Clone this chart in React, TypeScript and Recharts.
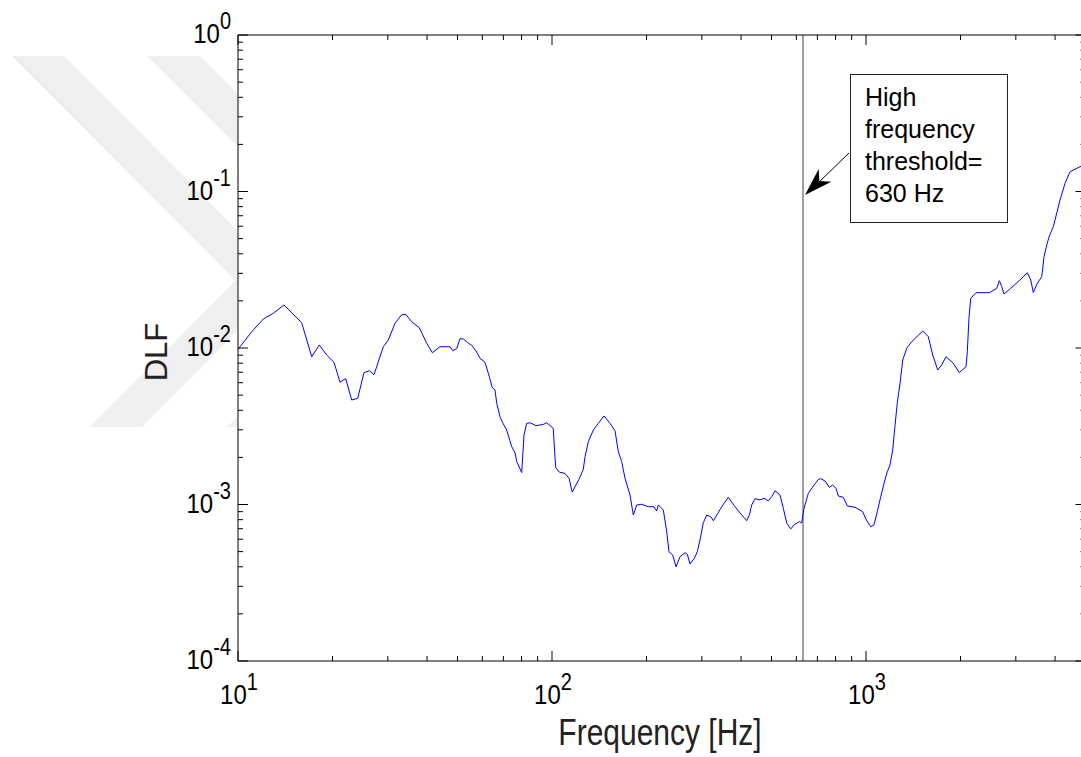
import { LineChart, Line, XAxis, YAxis, ReferenceLine } from "recharts";

// frequency [Hz] and DLF
const FREQ = [
  10, 11.06, 12.04, 12.95, 14.01, 15.95, 17.17, 18.15, 19.16, 20.22,
  21.13, 22.03, 23.02, 24.06, 25.19, 26.19, 27.11, 29.02, 30.1, 31.62,
  33.21, 34.28, 35.74, 37.79, 39.9, 41.57, 43.99, 47.33, 48.28, 49.72,
  50.93, 52.18, 53.74, 55.5, 57.28, 58.99, 61.19, 63.14, 64.55, 65.84,
  66.67, 68.3, 69.66, 71.74, 74.43, 76.25, 77.2, 80.08, 81.44, 83.06,
  85.1, 88.93, 93.82, 96.18, 100.9, 102.7, 105.5, 110.0, 113.3, 116.0,
  118.4, 121.9, 125.8, 127.4, 130.5, 135.4, 140.4, 146.4, 153.0, 158.7,
  162.6, 166.7, 170.8, 177.2, 181.5, 186.1, 193.1, 202.6, 211.3, 215.5,
  218.0, 226.2, 231.9, 235.8, 242.3, 248.3, 255.6, 265.2, 269.7, 275.1,
  283.9, 290.2, 296.0, 303.3, 311.0, 320.2, 326.4, 336.1, 347.1, 364.4,
  382.7, 401.9, 417.0, 425.0, 432.5, 443.1, 459.6, 473.3, 488.5, 500.7,
  513.0, 532.2, 545.3, 559.2, 575.8, 594.2, 613.3, 624.1, 634.7, 655.1,
  679.6, 705.0, 717.4, 740.4, 764.1, 783.4, 802.7, 816.3, 846.8, 872.0,
  922.6, 976.1, 1000, 1035, 1060, 1086, 1114, 1141, 1169, 1192,
  1216, 1237, 1258, 1283, 1309, 1348, 1398, 1516, 1579, 1631,
  1692, 1742, 1798, 1897, 1982, 2082, 2102, 2128, 2155, 2240,
  2470, 2608, 2658, 2705, 2751, 2890, 3133, 3264, 3346, 3410,
  3512, 3628, 3689, 3763, 3835, 3949, 3998, 4148, 4303, 4464,
  4804, 5000,
];

const DLF = [
  0.00981, 0.01271, 0.01532, 0.01666, 0.01883, 0.01451, 0.0088, 0.01045, 0.00902, 0.0081,
  0.00604, 0.00637, 0.00465, 0.00477, 0.00696, 0.00716, 0.00675, 0.01019, 0.01125, 0.01438,
  0.01633, 0.01633, 0.01472, 0.01348, 0.01072, 0.00933, 0.01019, 0.01019, 0.00961, 0.0099,
  0.01147, 0.01142, 0.01087, 0.0104, 0.00957, 0.00859, 0.0081, 0.00656, 0.00558, 0.00539,
  0.00443, 0.00364, 0.00333, 0.00299, 0.00234, 0.00214, 0.00188, 0.0016, 0.00278, 0.0033,
  0.00333, 0.00319, 0.00325, 0.00333, 0.00307, 0.00173, 0.00161, 0.00158, 0.00147, 0.0012,
  0.0013, 0.00145, 0.00168, 0.00202, 0.00252, 0.00299, 0.0033, 0.00368, 0.0033, 0.00296,
  0.00218, 0.00188, 0.00147, 0.00115, 0.000857, 0.000993, 0.001003, 0.000968, 0.000968, 0.000909,
  0.000993, 0.000922, 0.00067, 0.000499, 0.000476, 0.0004, 0.000464, 0.000492, 0.000481, 0.000417,
  0.000453, 0.000499, 0.000593, 0.000765, 0.000857, 0.000836, 0.000788, 0.000866, 0.000968, 0.001112,
  0.000968, 0.000857, 0.000788, 0.000857, 0.000993, 0.001089, 0.001069, 0.001095, 0.001057, 0.001121,
  0.001225, 0.00115, 0.000946, 0.000759, 0.000698, 0.00075, 0.000776, 0.000765, 0.000946, 0.001179,
  0.001313, 0.001444, 0.001462, 0.001413, 0.001288, 0.001332, 0.001269, 0.001133, 0.001112, 0.000978,
  0.00096, 0.000899, 0.000804, 0.000721, 0.00074, 0.000899, 0.001121, 0.001366, 0.001621, 0.001789,
  0.002229, 0.003197, 0.004485, 0.005949, 0.008382, 0.009956, 0.010973, 0.01284, 0.01181, 0.00902,
  0.00723, 0.00779, 0.0088, 0.00798, 0.00696, 0.0076, 0.00947, 0.01571, 0.02078, 0.02256,
  0.02256, 0.02406, 0.02692, 0.02464, 0.02213, 0.02406, 0.02789, 0.03028, 0.0272, 0.02262,
  0.02591, 0.02855, 0.03833, 0.04549, 0.05195, 0.05957, 0.06574, 0.08825, 0.1128, 0.1338,
  0.144, 0.1476,
];

const X_TICKS = [
  10, 20, 30, 40, 50, 60, 70, 80, 90,
  100, 200, 300, 400, 500, 600, 700, 800, 900,
  1000, 2000, 3000, 4000, 5000,
];

const Y_TICKS = [
  0.0001, 0.0002, 0.0003, 0.0004, 0.0005, 0.0006, 0.0007, 0.0008, 0.0009,
  0.001, 0.002, 0.003, 0.004, 0.005, 0.006, 0.007, 0.008, 0.009,
  0.01, 0.02, 0.03, 0.04, 0.05, 0.06, 0.07, 0.08, 0.09,
  0.1, 0.2, 0.3, 0.4, 0.5, 0.6, 0.7, 0.8, 0.9,
  1,
];

const THRESHOLD = 630;
const NOTE = ["High", "frequency", "threshold=", "630 Hz"];

const data = FREQ.map((f, i) => ({ f, dlf: DLF[i] }));

const FONT = '"Liberation Sans", Arial, Helvetica, sans-serif';

const decade = (v: number) => {
  const l = Math.log10(v);
  const e = Math.round(l);
  return { e, major: Math.abs(l - e) < 1e-6 };
};

const BottomTick = ({ x, y, payload }: any) => {
  const { e, major } = decade(payload.value);
  return (
    <g>
      <line x1={x} y1={y} x2={x} y2={y - (major ? 10 : 5)} stroke="#000" />
      {major && (
        <g transform={`translate(${x + 1},${y + 43}) scale(1,1.15)`}>
          <text textAnchor="middle" fontSize={24} fontFamily={FONT} fill="#000">
            10
            <tspan dy={-12} fontSize={20}>
              {e}
            </tspan>
          </text>
        </g>
      )}
    </g>
  );
};

const TopTick = ({ x, y, payload }: any) => {
  const { major } = decade(payload.value);
  return <line x1={x} y1={y} x2={x} y2={y + (major ? 10 : 5)} stroke="#000" />;
};

const LeftTick = ({ x, y, payload }: any) => {
  const { e, major } = decade(payload.value);
  return (
    <g>
      <line x1={x} y1={y} x2={x + (major ? 10 : 5)} y2={y} stroke="#000" />
      {major && (
        <g transform={`translate(${x - 7},${y + 8}) scale(1,1.15)`}>
          <text textAnchor="end" fontSize={24} fontFamily={FONT} fill="#000">
            10
            <tspan dy={-12} fontSize={20}>
              {e}
            </tspan>
          </text>
        </g>
      )}
    </g>
  );
};

const RightTick = ({ x, y, payload }: any) => {
  const { major } = decade(payload.value);
  return <line x1={x} y1={y} x2={x - (major ? 10 : 5)} y2={y} stroke="#000" />;
};

export default function App() {
  return (
    <div
      style={{
        position: "absolute",
        left: 0,
        top: 0,
        width: 1081,
        height: 757,
        overflow: "hidden",
        background: "#fff",
      }}
    >
      {/* watermark */}
      <svg width={1081} height={757} style={{ position: "absolute", left: 0, top: 0 }}>
        <defs>
          <clipPath id="wm">
            <rect x={0} y={0} width={237.5} height={757} />
          </clipPath>
        </defs>
        <g clipPath="url(#wm)" fill="#efefef">
          <polygon points="12,56 64,56 287.5,280.5 142,427 90,427 235.5,280.5" />
          <polygon points="147,56 200,56 424.5,280.5 279,427 227,427 372.5,280.5" />
        </g>
      </svg>

      <div style={{ position: "absolute", left: 0, top: 0 }}>
        <LineChart
          width={1100}
          height={757}
          data={data}
          margin={{ top: 30, right: 9.5, bottom: 56, left: 178 }}
        >
          <XAxis
            xAxisId="b"
            dataKey="f"
            type="number"
            scale="log"
            domain={[10, 5000]}
            allowDataOverflow
            ticks={X_TICKS}
            interval={0}
            height={40}
            tickSize={0}
            tickMargin={0}
            tickLine={false}
            axisLine={{ stroke: "#000" }}
            tick={(p: any) => <BottomTick {...p} />}
          />
          <XAxis
            xAxisId="t"
            orientation="top"
            dataKey="f"
            type="number"
            scale="log"
            domain={[10, 5000]}
            allowDataOverflow
            ticks={X_TICKS}
            interval={0}
            height={5}
            tickSize={0}
            tickMargin={0}
            tickLine={false}
            axisLine={{ stroke: "#000" }}
            tick={(p: any) => <TopTick {...p} />}
          />
          <YAxis
            yAxisId="l"
            type="number"
            scale="log"
            domain={[0.0001, 1]}
            allowDataOverflow
            ticks={Y_TICKS}
            interval={0}
            width={60}
            tickSize={0}
            tickMargin={0}
            tickLine={false}
            axisLine={{ stroke: "#000" }}
            tick={(p: any) => <LeftTick {...p} />}
          />
          <YAxis
            yAxisId="r"
            orientation="right"
            type="number"
            scale="log"
            domain={[0.0001, 1]}
            allowDataOverflow
            ticks={Y_TICKS}
            interval={0}
            width={5}
            tickSize={0}
            tickMargin={0}
            tickLine={false}
            axisLine={{ stroke: "#000" }}
            tick={(p: any) => <RightTick {...p} />}
          />
          <ReferenceLine xAxisId="b" yAxisId="l" x={THRESHOLD} stroke="#404040" strokeWidth={1} />
          <Line
            xAxisId="b"
            yAxisId="l"
            dataKey="dlf"
            type="linear"
            stroke="#0000ff"
            strokeWidth={1}
            dot={false}
            isAnimationActive={false}
          />
        </LineChart>
      </div>

      {/* axis titles and annotation */}
      <svg
        width={1081}
        height={757}
        style={{ position: "absolute", left: 0, top: 0, pointerEvents: "none" }}
        fontFamily={FONT}
      >
        <g transform="translate(660,745) scale(1,1.25)">
          <text textAnchor="middle" fontSize={30} fill="#222">
            Frequency [Hz]
          </text>
        </g>
        <text
          x={167}
          y={352}
          transform="rotate(-90,167,352)"
          textAnchor="middle"
          fontSize={31}
          fill="#222"
        >
          DLF
        </text>

        <rect x={850.5} y={74.5} width={157} height={148} fill="#fff" stroke="#222" strokeWidth={1} />
        {NOTE.map((t, i) => (
          <text key={t} x={865} y={106 + i * 32} fontSize={25} fill="#000">
            {t}
          </text>
        ))}
        <line x1={849} y1={153} x2={818} y2={183} stroke="#000" strokeWidth={1} />
        <polygon points="805,195 818.7,169 819.3,181 831.3,181.8" fill="#000" />
      </svg>
    </div>
  );
}
